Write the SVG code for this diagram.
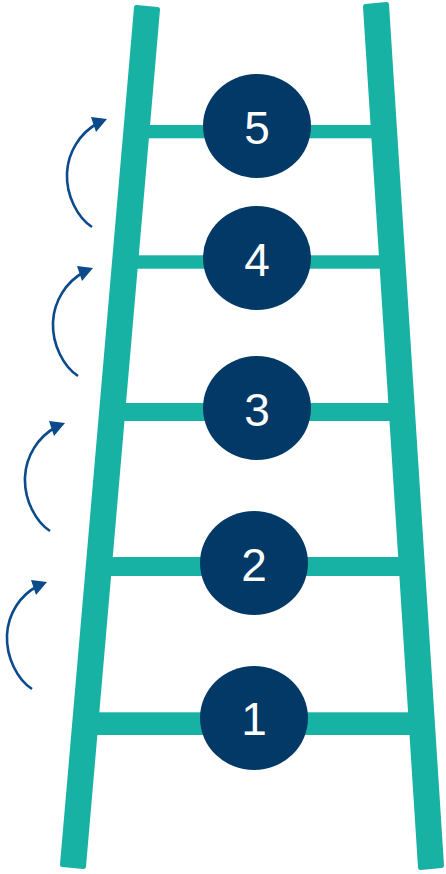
<svg xmlns="http://www.w3.org/2000/svg" width="446" height="874" viewBox="0 0 446 874">
  <style>
    .rail { fill: #18B2A5; stroke: #18B2A5; stroke-width: 5; stroke-linejoin: round; }
    .rung { fill: #18B2A5; }
    .node-circle { fill: #033966; }
    .node-label { fill: #FFFFFF; font-family: "Liberation Sans", Arial, sans-serif; font-size: 46px; text-anchor: middle; }
    .arc { fill: none; stroke: #0B4A8B; stroke-width: 2.6; }
    .head { fill: #0B4A8B; }
  </style>
  <rect width="446" height="874" fill="#FFFFFF"/>

  <g id="ladder">
    <rect class="rung" x="135.8" y="125" width="248.3" height="13.3"/>
    <rect class="rung" x="124.7" y="255.3" width="267.9" height="13.4"/>
    <rect class="rung" x="111.9" y="403" width="290.3" height="18"/>
    <rect class="rung" x="98.7" y="557" width="313.4" height="19"/>
    <rect class="rung" x="85.4" y="712.3" width="336.7" height="22.7"/>
    <polygon class="rail" points="136.5,7.5 157.5,9.5 83.5,866.5 62.5,864.5"/>
    <polygon class="rail" points="365.5,6.5 386.5,4.5 441.5,865.5 420.5,867.5"/>
  </g>

  <g id="connectors">
    <g id="arrow-1-2">
      <path class="arc" d="M32,689 C18,680 6,658 7,635 C8,614 20,595 38,586"/>
      <polygon class="head" points="47,582 31,580 36,595"/>
    </g>
    <g id="arrow-2-3">
      <path class="arc" d="M50,531 C36,522 24,500 25,477 C26,456 38,437 56,427"/>
      <polygon class="head" points="65,423 49,421 54,436"/>
    </g>
    <g id="arrow-3-4">
      <path class="arc" d="M78,376 C64,367 52,345 53,322 C54,301 66,282 84,272"/>
      <polygon class="head" points="93,268 77,266 82,281"/>
    </g>
    <g id="arrow-4-5">
      <path class="arc" d="M92,227 C78,218 66,196 67,173 C68,152 80,133 98,123"/>
      <polygon class="head" points="107,119 91,117 96,132"/>
    </g>
  </g>

  <g id="node-5">
    <ellipse class="node-circle" cx="257" cy="126" rx="54" ry="52"/>
    <text class="node-label" x="257" y="144">5</text>
  </g>
  <g id="node-4">
    <ellipse class="node-circle" cx="257" cy="258" rx="54" ry="52"/>
    <text class="node-label" x="257" y="275.5">4</text>
  </g>
  <g id="node-3">
    <ellipse class="node-circle" cx="257" cy="408" rx="54" ry="52"/>
    <text class="node-label" x="257" y="425.5">3</text>
  </g>
  <g id="node-2">
    <ellipse class="node-circle" cx="254" cy="563" rx="54" ry="52"/>
    <text class="node-label" x="254" y="580.5">2</text>
  </g>
  <g id="node-1">
    <ellipse class="node-circle" cx="254" cy="718" rx="54" ry="52"/>
    <text class="node-label" x="254" y="735">1</text>
  </g>
</svg>
